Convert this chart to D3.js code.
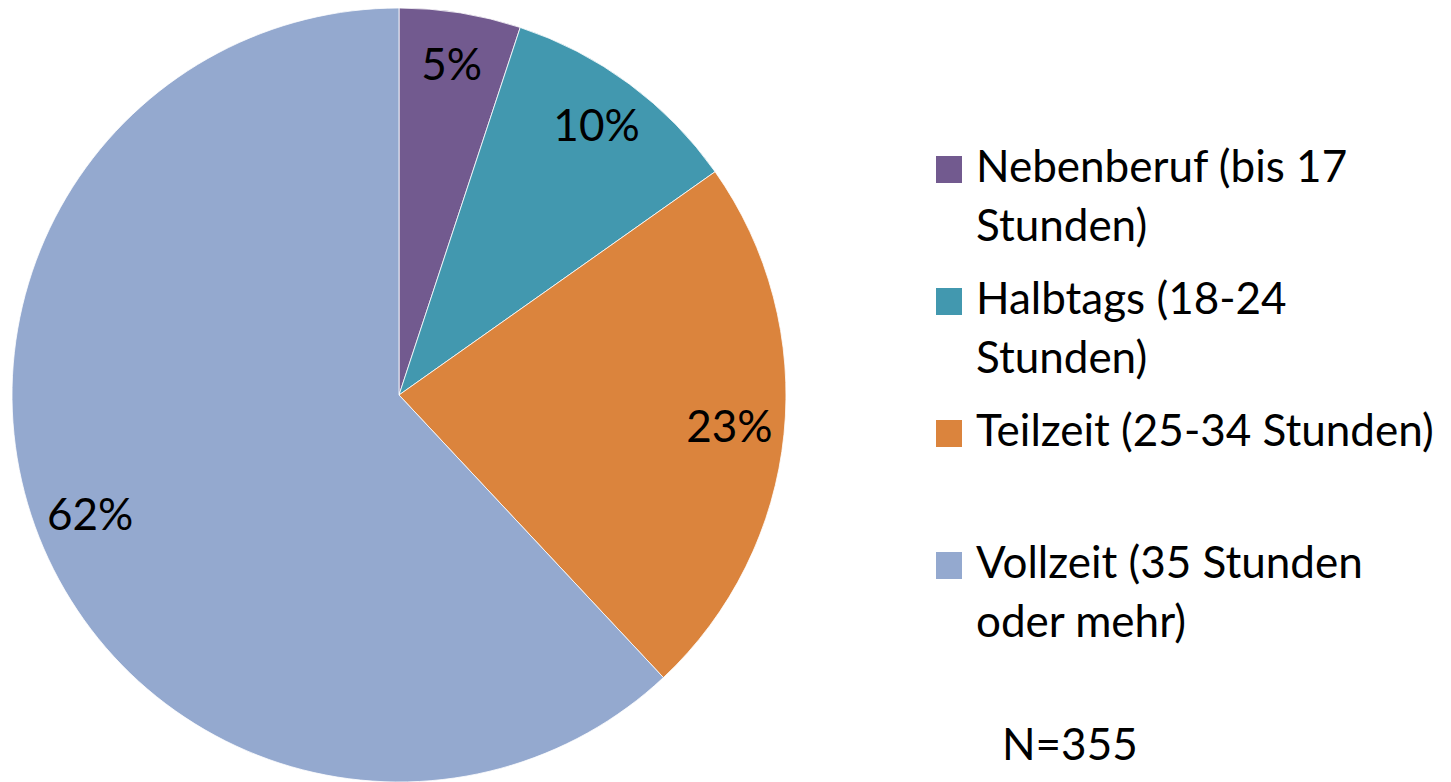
<!DOCTYPE html>
<html><head><meta charset="utf-8">
<script src="https://cdn.jsdelivr.net/npm/d3@7"></script>
<style>html,body{margin:0;padding:0;background:#fff;}svg{display:block;font-family:Lato,"Open Sans",sans-serif;}</style>
</head><body>
<svg id="chart" width="1451" height="782"></svg>
<script>
const categories = ["Nebenberuf (bis 17 Stunden)", "Halbtags (18-24 Stunden)", "Teilzeit (25-34 Stunden)", "Vollzeit (35 Stunden oder mehr)"];
const legendLines = [["Nebenberuf (bis 17", "Stunden)"], ["Halbtags (18-24", "Stunden)"], ["Teilzeit (25-34 Stunden)"], ["Vollzeit (35 Stunden", "oder mehr)"]];
const counts = [18, 36, 81, 220];
const colors = ["#725A8F", "#4298AF", "#DB843D", "#94A9CF"];
const nLabel = "N=355";

const svg = d3.select("#chart");
const cx = 399, cy = 395, R = 387, labelR = 332;
const total = d3.sum(counts);
const pie = d3.pie().sort(null).value(d => d)(counts);
const arc = d3.arc().innerRadius(0).outerRadius(R);
const labelArc = d3.arc().innerRadius(labelR).outerRadius(labelR);

const g = svg.append("g").attr("transform", `translate(${cx},${cy})`);
g.selectAll("path").data(pie).join("path")
  .attr("d", arc).attr("fill", (d, i) => colors[i])
  .attr("stroke", "#fff").attr("stroke-width", 0.8);
g.selectAll("text").data(pie).join("text")
  .attr("transform", d => `translate(${labelArc.centroid(d)})`)
  .attr("text-anchor", "middle").attr("dy", "0.3em")
  .attr("font-size", 44).attr("fill", "#000")
  .text(d => Math.round(d.value / total * 100) + "%");

const legendY = [156, 288, 420, 552];
const lg = svg.append("g");
categories.forEach((c, i) => {
  lg.append("rect").attr("x", 936).attr("y", legendY[i]).attr("width", 26).attr("height", 27).attr("fill", colors[i]);
  legendLines[i].forEach((line, j) => {
    lg.append("text").attr("x", 976).attr("y", legendY[i] + 26 + j * 59)
      .attr("font-size", 44).attr("fill", "#000").text(line);
  });
});
svg.append("text").attr("x", 1002).attr("y", 760).attr("font-size", 44).attr("fill", "#000").text(nLabel);
</script>
</body></html>
